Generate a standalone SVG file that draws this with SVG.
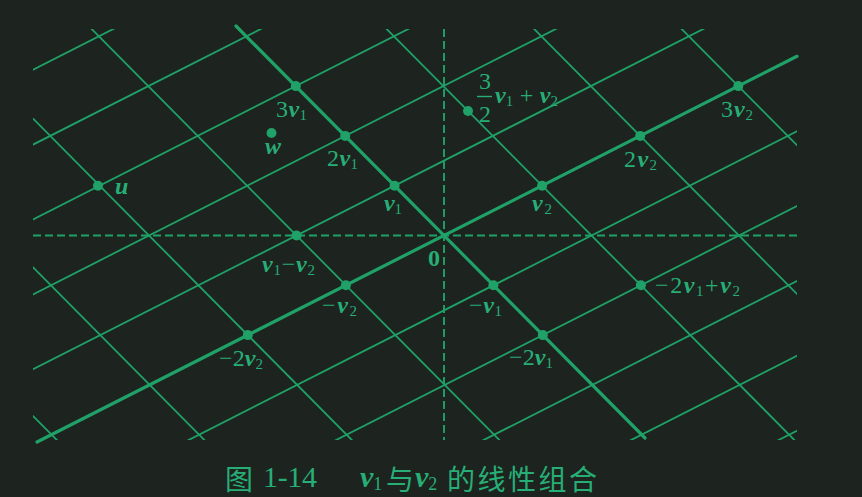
<svg xmlns="http://www.w3.org/2000/svg" width="862" height="497" viewBox="0 0 862 497">
  <defs>
    <clipPath id="frame"><rect x="33" y="29" width="764" height="411"/></clipPath>
    <style>
      .bg { fill: #1d231e; }
      .grid line { stroke: #1fa168; stroke-width: 1.8; fill: none; }
      .axis { stroke: #1fa168; stroke-width: 3.2; fill: none; stroke-linecap: round; }
      .dash { stroke: #1fa168; stroke-width: 1.9; stroke-dasharray: 8 4; fill: none; }
      .dot { fill: #1fa168; }
      .lbl { font-family: "Liberation Serif", "Times New Roman", serif; font-size: 24px; fill: #27ae76; }
      .v { font-style: italic; font-weight: bold; }
      .sub { font-size: 15px; }
      .zero { font-weight: bold; }
      .cap { font-family: "Noto Sans CJK SC", "Noto Sans", sans-serif; font-size: 28px; fill: #27ae76; }
      .capn { font-family: "Liberation Serif", "Times New Roman", serif; font-size: 30px; fill: #27ae76; }
    </style>
  </defs>

  <rect class="bg" x="0" y="0" width="862" height="497"/>

  <g id="connectors">
    <g class="grid" clip-path="url(#frame)">
      <!-- lines parallel to v2 through a*v1 -->
      <line x1="-784" y1="484.5" x2="1178" y2="-511.5"/>
      <line x1="-734.6" y1="534.3" x2="1227.4" y2="-461.7"/>
      <line x1="-685.2" y1="584.1" x2="1276.8" y2="-411.9"/>
      <line x1="-635.8" y1="633.9" x2="1326.2" y2="-362.1"/>
      <line x1="-586.4" y1="683.7" x2="1375.6" y2="-312.3"/>
      <line x1="-487.6" y1="783.3" x2="1474.4" y2="-212.7"/>
      <line x1="-438.2" y1="833.1" x2="1523.8" y2="-162.9"/>
      <line x1="-388.8" y1="882.9" x2="1573.2" y2="-113.1"/>
      <line x1="-339.4" y1="932.7" x2="1622.6" y2="-63.3"/>
      <line x1="-290" y1="982.5" x2="1672" y2="-13.5"/>
      <!-- lines parallel to v1 through b*v2 -->
      <line x1="-442.4" y1="-63.3" x2="545.6" y2="932.7"/>
      <line x1="-344.3" y1="-113.1" x2="643.7" y2="882.9"/>
      <line x1="-246.2" y1="-162.9" x2="741.8" y2="833.1"/>
      <line x1="-148.1" y1="-212.7" x2="839.9" y2="783.3"/>
      <line x1="48.1" y1="-312.3" x2="1036.1" y2="683.7"/>
      <line x1="146.2" y1="-362.1" x2="1134.2" y2="633.9"/>
      <line x1="244.3" y1="-411.9" x2="1232.3" y2="584.1"/>
    </g>
    <line class="dash" x1="33" y1="235.5" x2="797" y2="235.5"/>
    <line class="dash" x1="444" y1="29" x2="444" y2="440"/>
    <line class="axis" x1="37" y1="442" x2="797" y2="56.3"/>
    <line class="axis" x1="236" y1="26" x2="645" y2="438"/>
  </g>

  <g id="p-3v1"><circle class="dot" cx="295.8" cy="86.1" r="5"/>
    <text class="lbl" x="276" y="117" textLength="31">3<tspan class="v">v</tspan><tspan class="sub" dy="3">1</tspan></text></g>
  <g id="p-2v1"><circle class="dot" cx="345.2" cy="135.9" r="5"/>
    <text class="lbl" x="327" y="166" textLength="31">2<tspan class="v">v</tspan><tspan class="sub" dy="3">1</tspan></text></g>
  <g id="p-v1"><circle class="dot" cx="394.6" cy="185.7" r="5"/>
    <text class="lbl" x="384" y="211" textLength="18"><tspan class="v">v</tspan><tspan class="sub" dy="3">1</tspan></text></g>
  <g id="p-w"><circle class="dot" cx="271.5" cy="133" r="5"/>
    <text class="lbl v" x="265" y="154">w</text></g>
  <g id="p-u"><circle class="dot" cx="98" cy="185.7" r="5"/>
    <text class="lbl v" x="115" y="194">u</text></g>
  <g id="p-origin">
    <text class="lbl zero" x="428" y="266">0</text></g>
  <g id="p-v2"><circle class="dot" cx="542.1" cy="185.7" r="5"/>
    <text class="lbl" x="532" y="211" textLength="20"><tspan class="v">v</tspan><tspan class="sub" dy="3">2</tspan></text></g>
  <g id="p-2v2"><circle class="dot" cx="640.2" cy="135.9" r="5"/>
    <text class="lbl" x="624" y="167" textLength="33">2<tspan class="v">v</tspan><tspan class="sub" dy="3">2</tspan></text></g>
  <g id="p-3v2"><circle class="dot" cx="738.3" cy="86.1" r="5"/>
    <text class="lbl" x="721" y="117" textLength="32">3<tspan class="v">v</tspan><tspan class="sub" dy="3">2</tspan></text></g>
  <g id="p-half"><circle class="dot" cx="468" cy="111" r="5"/>
    <text class="lbl" x="479" y="89">3</text>
    <line x1="477" y1="96.5" x2="492" y2="96.5" stroke="#27ae76" stroke-width="1.4"/>
    <text class="lbl" x="479" y="122">2</text>
    <text class="lbl" x="495" y="103" textLength="63"><tspan class="v">v</tspan><tspan class="sub" dy="3">1</tspan><tspan dy="-3"> + </tspan><tspan class="v">v</tspan><tspan class="sub" dy="3">2</tspan></text></g>
  <g id="p-v1-v2"><circle class="dot" cx="296.5" cy="235.5" r="5"/>
    <text class="lbl" x="262" y="272" textLength="53"><tspan class="v">v</tspan><tspan class="sub" dy="3">1</tspan><tspan dy="-3">−</tspan><tspan class="v">v</tspan><tspan class="sub" dy="3">2</tspan></text></g>
  <g id="p-neg-v2"><circle class="dot" cx="345.9" cy="285.3" r="5"/>
    <text class="lbl" x="322" y="313" textLength="35">−<tspan class="v">v</tspan><tspan class="sub" dy="3">2</tspan></text></g>
  <g id="p-neg-2v2"><circle class="dot" cx="247.8" cy="335.1" r="5"/>
    <text class="lbl" x="219" y="366" textLength="44">−2<tspan class="v">v</tspan><tspan class="sub" dy="3">2</tspan></text></g>
  <g id="p-neg-v1"><circle class="dot" cx="493.4" cy="285.3" r="5"/>
    <text class="lbl" x="469" y="313" textLength="33">−<tspan class="v">v</tspan><tspan class="sub" dy="3">1</tspan></text></g>
  <g id="p-neg-2v1"><circle class="dot" cx="542.8" cy="335.1" r="5"/>
    <text class="lbl" x="509" y="365" textLength="44">−2<tspan class="v">v</tspan><tspan class="sub" dy="3">1</tspan></text></g>
  <g id="p-neg2v1-v2"><circle class="dot" cx="640.9" cy="285.3" r="5"/>
    <text class="lbl" x="655" y="293" textLength="85">−2<tspan class="v">v</tspan><tspan class="sub" dy="3">1</tspan><tspan dy="-3">+</tspan><tspan class="v">v</tspan><tspan class="sub" dy="3">2</tspan></text></g>

  <g id="caption">
    <text class="cap" x="225" y="490">图</text>
    <text class="capn" x="263" y="487" textLength="54">1-14</text>
    <text class="capn" x="360" y="487"><tspan class="v">v</tspan><tspan font-size="18" dy="3">1</tspan></text>
    <text class="cap" x="386" y="490">与</text>
    <text class="capn" x="415" y="487"><tspan class="v">v</tspan><tspan font-size="18" dy="3">2</tspan></text>
    <text class="cap" x="447" y="490" textLength="150">的线性组合</text>
  </g>
</svg>
